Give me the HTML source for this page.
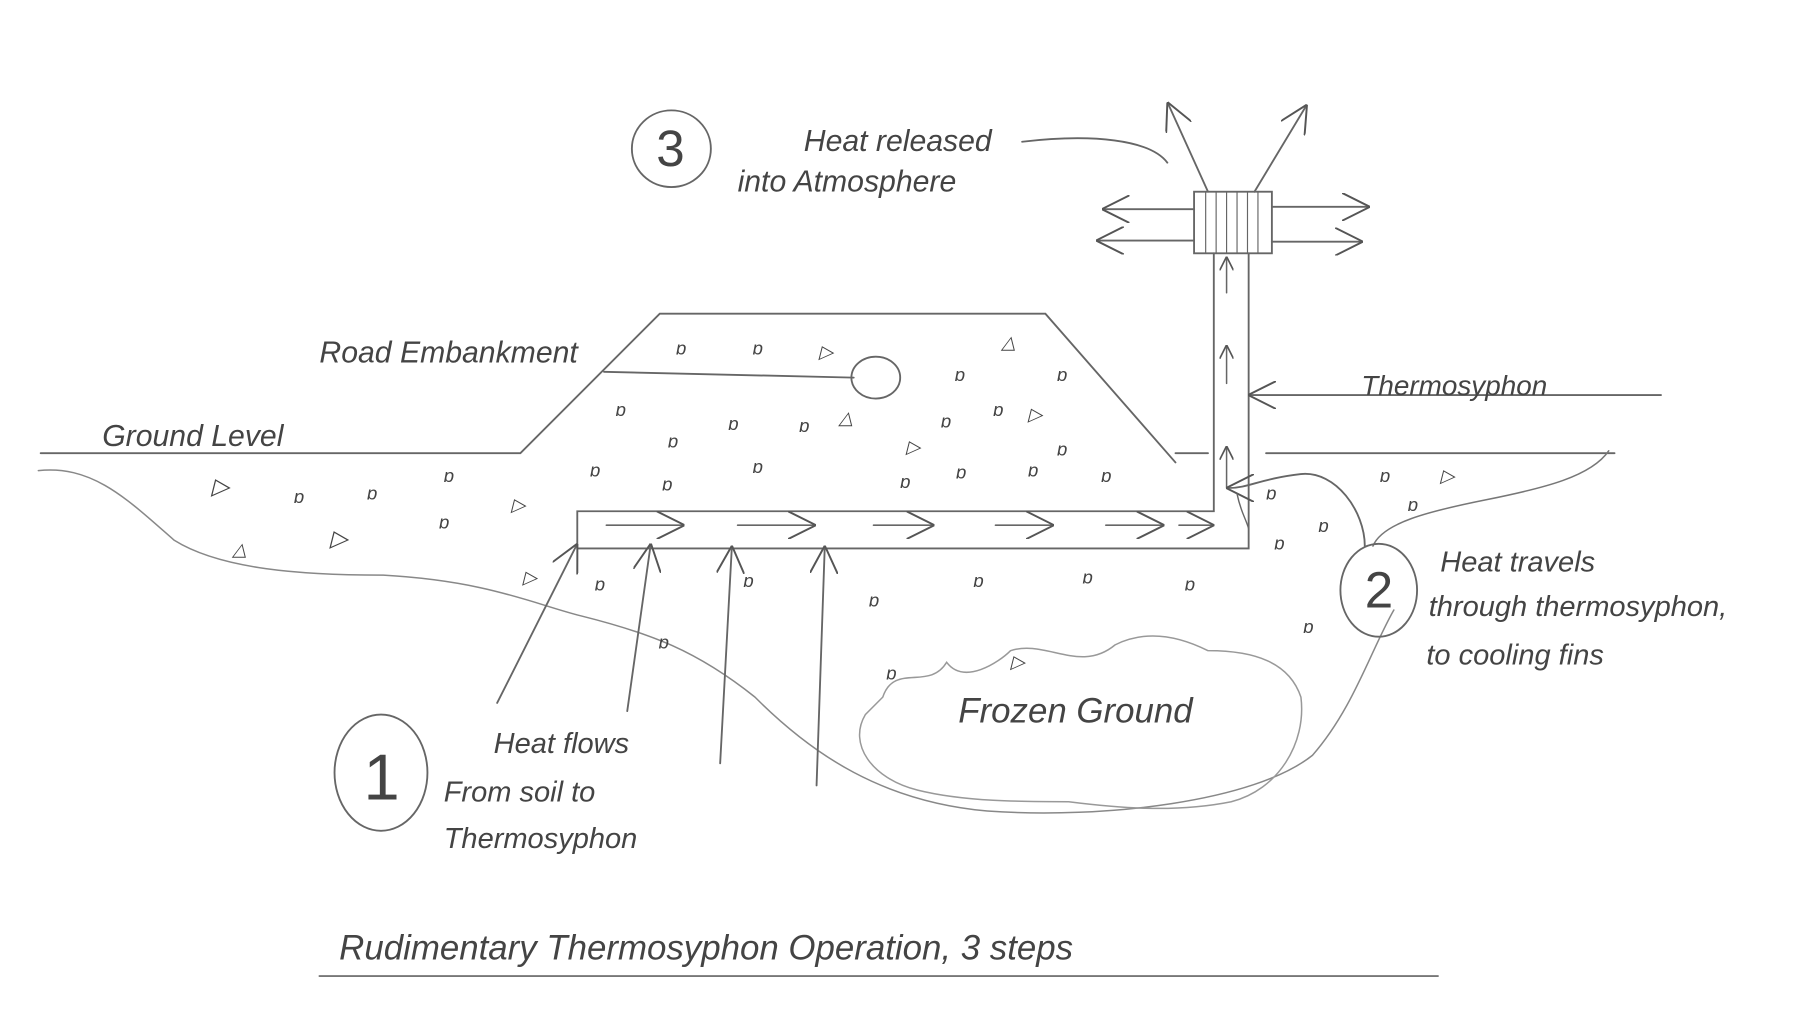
<!DOCTYPE html>
<html><head><style>
html,body{margin:0;padding:0;background:#fff;}
svg{display:block;}
text{font-family:"Liberation Sans",sans-serif;fill:#444;font-style:italic;}
</style></head><body>
<svg width="1812" height="1019" viewBox="0 0 1560 877" preserveAspectRatio="none" xmlns="http://www.w3.org/2000/svg">
<defs>
<marker id="ah" viewBox="0 0 10 10" refX="9" refY="5" markerWidth="12" markerHeight="12" orient="auto" markerUnits="userSpaceOnUse"><path d="M0,0 L10,5 L0,10" fill="none" stroke="#555" stroke-width="1.2"/></marker>
<marker id="ahb" viewBox="0 0 10 10" refX="9" refY="5" markerWidth="24" markerHeight="24" orient="auto" markerUnits="userSpaceOnUse"><path d="M0,0 L10,5 L0,10" fill="none" stroke="#555" stroke-width="0.7"/></marker>
</defs>
<g fill="none" stroke="#666" stroke-width="1.6" stroke-linecap="round">
<!-- step 3 -->
<ellipse cx="578" cy="128" rx="34" ry="33"/>
<path d="M880,122 C940,115 990,120 1005,140"/>
<!-- fin box -->
<rect x="1028" y="165" width="67" height="53"/>
<path d="M1038,165V218M1047,165V218M1056,165V218M1065,165V218M1074,165V218M1083,165V218" stroke-width="1"/>
<path d="M1040,165 L1006,90" marker-end="url(#ahb)"/>
<path d="M1080,165 L1124,92" marker-end="url(#ahb)"/>
<path d="M1028,180 L951,180" marker-end="url(#ahb)"/>
<path d="M1028,207 L946,207" marker-end="url(#ahb)"/>
<path d="M1095,178 L1177,178" marker-end="url(#ahb)"/>
<path d="M1095,208 L1171,208" marker-end="url(#ahb)"/>
<!-- pipe -->
<path d="M1045,218 V440 H497 V472 H1075 V218"/>
<g stroke-width="1.3">
<path d="M522,452 H587" marker-end="url(#ahb)"/>
<path d="M635,452 H700" marker-end="url(#ahb)"/>
<path d="M752,452 H802" marker-end="url(#ahb)"/>
<path d="M857,452 H905" marker-end="url(#ahb)"/>
<path d="M952,452 H1000" marker-end="url(#ahb)"/>
<path d="M1015,452 H1043" marker-end="url(#ahb)"/>
<path d="M1056,252 V222" marker-end="url(#ah)"/>
<path d="M1056,330 V298" marker-end="url(#ah)"/>
<path d="M1056,420 V385" marker-end="url(#ah)"/>
</g>
<!-- thermosyphon label line -->
<path d="M1430,340 H1077" marker-end="url(#ahb)"/>
<!-- embankment -->
<path d="M35,390 H448 L568,270 H900 L1012,398"/>
<path d="M1012,390 H1040 M1090,390 H1390"/>
<path d="M520,320 L735,325"/>
<ellipse cx="754" cy="325" rx="21" ry="18"/>
<!-- ground boundary -->
<path d="M33,405 C80,400 110,430 150,465 C190,490 260,495 330,495 C420,500 460,520 500,530 C560,545 600,560 650,600 C700,650 760,690 850,698 C950,705 1080,690 1130,650 C1165,610 1180,560 1200,525" stroke="#888" stroke-width="1.3"/>
<path d="M1182,470 C1190,450 1230,440 1280,430 C1330,420 1370,410 1385,388" stroke="#777" stroke-width="1.3"/>
<!-- curve from 2 to pipe -->
<path d="M1175,470 C1175,440 1150,405 1120,408 C1085,412 1075,420 1058,420" marker-end="url(#ahb)"/>
<path d="M1065,425 C1068,440 1072,445 1075,455" stroke-width="1.2"/>
<!-- frozen ground -->
<path d="M760,600 C770,570 800,595 815,570 C830,590 860,570 870,560 C900,550 930,580 960,555 C990,540 1020,550 1040,560 C1080,560 1110,570 1120,600 C1125,640 1100,680 1060,690 C1010,700 960,695 920,690 C880,690 830,690 790,680 C750,670 730,640 745,615 Z" stroke="#999" stroke-width="1.3"/>
<!-- step 2 and 1 -->
<ellipse cx="1187" cy="508" rx="33" ry="40"/>
<ellipse cx="328" cy="665" rx="40" ry="50"/>
<!-- heat up arrows -->
<path d="M428,605 L496,470" marker-end="url(#ahb)"/>
<path d="M540,612 L560,470" marker-end="url(#ahb)"/>
<path d="M620,657 L630,472" marker-end="url(#ahb)"/>
<path d="M703,676 L710,472" marker-end="url(#ahb)"/>
<!-- title underline -->
<path d="M275,840 H1238" stroke="#777"/>
</g>
<!-- rocks -->
<g font-size="16" style="font-style:normal" fill="#666">
<text x="582" y="305">ɒ</text><text x="648" y="305">ɒ</text><text x="705" y="308">▷</text><text x="862" y="300">△</text>
<text x="822" y="328">ɒ</text><text x="910" y="328">ɒ</text><text x="530" y="358">ɒ</text><text x="627" y="370">ɒ</text>
<text x="688" y="372">ɒ</text><text x="722" y="365">△</text><text x="810" y="368">ɒ</text><text x="855" y="358">ɒ</text><text x="885" y="362">▷</text>
<text x="575" y="385">ɒ</text><text x="780" y="390">▷</text><text x="910" y="392">ɒ</text>
<text x="508" y="410">ɒ</text><text x="570" y="422">ɒ</text><text x="648" y="407">ɒ</text><text x="775" y="420">ɒ</text><text x="823" y="412">ɒ</text><text x="885" y="410">ɒ</text><text x="948" y="415">ɒ</text>
<text x="182" y="425" font-size="20">▷</text><text x="253" y="433">ɒ</text><text x="316" y="430">ɒ</text><text x="382" y="415">ɒ</text><text x="378" y="455">ɒ</text><text x="440" y="440">▷</text>
<text x="200" y="478">△</text><text x="284" y="470" font-size="20">▷</text>
<text x="450" y="502">▷</text><text x="512" y="508">ɒ</text><text x="640" y="505">ɒ</text><text x="748" y="522">ɒ</text><text x="838" y="505">ɒ</text><text x="932" y="502">ɒ</text><text x="1020" y="508">ɒ</text>
<text x="567" y="558">ɒ</text><text x="763" y="585">ɒ</text><text x="870" y="575">▷</text><text x="1122" y="545">ɒ</text>
<text x="1090" y="430">ɒ</text><text x="1135" y="458">ɒ</text><text x="1097" y="473">ɒ</text>
<text x="1188" y="415">ɒ</text><text x="1240" y="415">▷</text><text x="1212" y="440">ɒ</text>
</g>
<!-- labels -->
<text x="565" y="143" font-size="44" style="font-style:normal">3</text>
<text x="1175" y="523" font-size="44" style="font-style:normal">2</text>
<text x="313" y="688" font-size="56" style="font-style:normal">1</text>
<text x="692" y="130" font-size="26">Heat released</text>
<text x="635" y="165" font-size="26">into Atmosphere</text>
<text x="1172" y="340" font-size="24">Thermosyphon</text>
<text x="275" y="312" font-size="26">Road Embankment</text>
<text x="88" y="384" font-size="26">Ground Level</text>
<text x="1240" y="492" font-size="25">Heat travels</text>
<text x="1230" y="530" font-size="25">through thermosyphon,</text>
<text x="1228" y="572" font-size="25">to cooling fins</text>
<text x="825" y="622" font-size="30">Frozen Ground</text>
<text x="425" y="648" font-size="25">Heat flows</text>
<text x="382" y="690" font-size="25">From soil to</text>
<text x="382" y="730" font-size="25">Thermosyphon</text>
<text x="292" y="826" font-size="30">Rudimentary Thermosyphon Operation, 3 steps</text>
</svg>
</body></html>
